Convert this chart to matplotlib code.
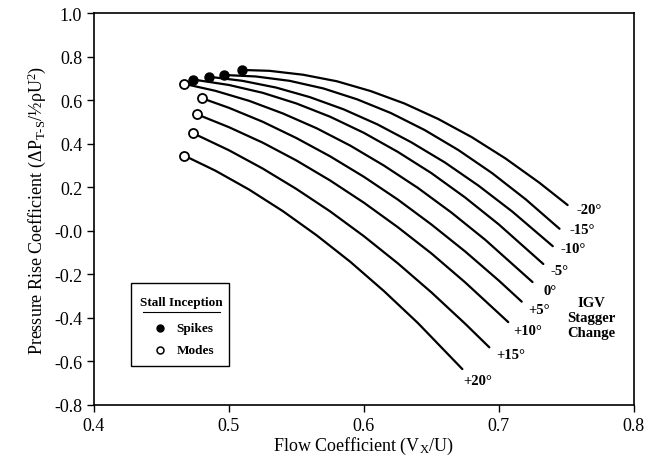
import numpy as np
import matplotlib.pyplot as plt
from matplotlib.patches import Rectangle

plt.rcParams['font.family'] = ['Liberation Serif', 'DejaVu Serif']
plt.rcParams['mathtext.fontset'] = 'custom'
plt.rcParams['mathtext.rm'] = 'Liberation Serif'
plt.rcParams['mathtext.it'] = 'Liberation Serif:italic'

# IGV stagger settings, top curve first
stagger_labels = ['-20°', '-15°', '-10°', '-5°', '0°', '+5°', '+10°', '+15°', '+20°']
stall_type = ['spike', 'spike', 'spike', 'spike', 'mode', 'mode', 'mode', 'mode', 'mode']

# characteristic curves (flow coefficient, pressure rise)
x_m20 = [0.510, 0.530, 0.555, 0.580, 0.605, 0.630, 0.655, 0.680, 0.705, 0.730, 0.751]
y_m20 = [0.740, 0.736, 0.718, 0.688, 0.643, 0.586, 0.515, 0.431, 0.333, 0.222, 0.119]
x_m15 = [0.496, 0.520, 0.545, 0.570, 0.595, 0.620, 0.645, 0.670, 0.695, 0.720, 0.745]
y_m15 = [0.717, 0.710, 0.690, 0.655, 0.605, 0.542, 0.464, 0.372, 0.266, 0.145, 0.010]
x_m10 = [0.485, 0.510, 0.535, 0.560, 0.585, 0.610, 0.635, 0.660, 0.685, 0.710, 0.740]
y_m10 = [0.709, 0.690, 0.659, 0.615, 0.559, 0.490, 0.408, 0.315, 0.208, 0.089, -0.070]
x_m5 = [0.4735, 0.500, 0.525, 0.550, 0.575, 0.600, 0.625, 0.650, 0.675, 0.700, 0.733]
y_m5 = [0.696, 0.671, 0.635, 0.586, 0.525, 0.451, 0.364, 0.266, 0.154, 0.030, -0.152]
x_0 = [0.467, 0.490, 0.515, 0.540, 0.565, 0.590, 0.615, 0.640, 0.665, 0.690, 0.725]
y_0 = [0.676, 0.644, 0.598, 0.540, 0.472, 0.392, 0.300, 0.198, 0.084, -0.041, -0.235]
x_p5 = [0.480, 0.500, 0.525, 0.550, 0.575, 0.600, 0.625, 0.650, 0.675, 0.700, 0.717]
y_p5 = [0.610, 0.566, 0.502, 0.427, 0.343, 0.249, 0.145, 0.030, -0.094, -0.228, -0.325]
x_p10 = [0.476, 0.500, 0.525, 0.550, 0.575, 0.600, 0.625, 0.650, 0.675, 0.707]
y_p10 = [0.537, 0.477, 0.406, 0.324, 0.232, 0.130, 0.018, -0.103, -0.236, -0.419]
x_p15 = [0.4735, 0.500, 0.525, 0.550, 0.575, 0.600, 0.625, 0.650, 0.675, 0.693]
y_p15 = [0.449, 0.371, 0.287, 0.193, 0.090, -0.024, -0.148, -0.282, -0.426, -0.535]
x_p20 = [0.467, 0.490, 0.515, 0.540, 0.565, 0.590, 0.615, 0.640, 0.673]
y_p20 = [0.346, 0.277, 0.190, 0.091, -0.020, -0.142, -0.277, -0.423, -0.635]

curves_x = [x_m20, x_m15, x_m10, x_m5, x_0, x_p5, x_p10, x_p15, x_p20]
curves_y = [y_m20, y_m15, y_m10, y_m5, y_0, y_p5, y_p10, y_p15, y_p20]

# where each stagger label sits relative to the curve end (points)
label_offsets = [(15.5, -3), (16.5, -0.6), (14.4, -1.4), (11.5, -4.8), (12.6, -6),
                 (12.6, -5.3), (14.1, -6), (15.5, -5.5), (11.2, -8.3)]

fig = plt.figure(figsize=(6.48, 4.64), dpi=100)
ax = fig.add_axes([0.145, 0.125, 0.833, 0.844])

for i in range(len(curves_x)):
    cx, cy = curves_x[i], curves_y[i]
    ax.plot(cx, cy, color='black', lw=1.6, solid_capstyle='round',
            solid_joinstyle='round', zorder=2)
    if stall_type[i] == 'spike':
        ax.plot(cx[0], cy[0], 'o', ms=6.5, mfc='black', mec='black', zorder=3)
    else:
        ax.plot(cx[0], cy[0], 'o', ms=6.5, mfc='white', mec='black', mew=1.3, zorder=3)
    ax.annotate(stagger_labels[i], (cx[-1], cy[-1]), xytext=label_offsets[i],
                textcoords='offset points', ha='center', va='center',
                fontsize=10.5, fontweight='bold')

ax.text(0.7686, -0.40, 'IGV\nStagger\nChange', ha='center', va='center',
        fontsize=10.5, fontweight='bold', linespacing=1.2)

# legend box drawn by hand
ax.add_patch(Rectangle((0.068, 0.099), 0.182, 0.213, transform=ax.transAxes,
                       fill=False, ec='black', lw=1.0, zorder=4))
ax.text(0.162, 0.262, 'Stall Inception', transform=ax.transAxes,
        ha='center', va='center', fontsize=9.5, fontweight='bold')
ax.plot([0.090, 0.234], [0.238, 0.238], transform=ax.transAxes, color='black', lw=0.8)
ax.plot(0.122, 0.196, 'o', ms=5, mfc='black', mec='black', transform=ax.transAxes)
ax.plot(0.122, 0.140, 'o', ms=5, mfc='white', mec='black', mew=1.1, transform=ax.transAxes)
ax.text(0.153, 0.196, 'Spikes', transform=ax.transAxes, ha='left', va='center',
        fontsize=9.5, fontweight='bold')
ax.text(0.153, 0.140, 'Modes', transform=ax.transAxes, ha='left', va='center',
        fontsize=9.5, fontweight='bold')

ax.set_xlim(0.4, 0.8)
ax.set_ylim(-0.8, 1.0)
ax.set_xticks([0.4, 0.5, 0.6, 0.7, 0.8])
ax.set_xticklabels(['0.4', '0.5', '0.6', '0.7', '0.8'])
yt = [-0.8, -0.6, -0.4, -0.2, 0.0, 0.2, 0.4, 0.6, 0.8, 1.0]
ax.set_yticks(yt)
ax.set_yticklabels(['-0.8', '-0.6', '-0.4', '-0.2', '-0.0', '0.2', '0.4', '0.6', '0.8', '1.0'])
ax.tick_params(axis='both', direction='out', length=5, width=1.0, labelsize=13)
for s in ax.spines.values():
    s.set_linewidth(1.2)

ax.set_xlabel(r'Flow Coefficient (V$_{\rm X}$/U)', fontsize=13, labelpad=1)
ax.set_ylabel(r'Pressure Rise Coefficient ($\Delta$P$_{\rm T\text{-}S}$/½ρU$^2$)', fontsize=13, labelpad=4)

fig.savefig('out.png', dpi=100)
